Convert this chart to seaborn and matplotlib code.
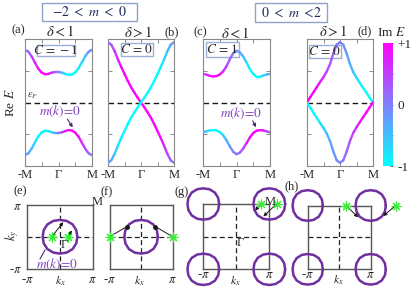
import numpy as np
import matplotlib
matplotlib.use("Agg")
import matplotlib.pyplot as plt
import seaborn as sns
from matplotlib.collections import LineCollection
from matplotlib.colors import Normalize
from matplotlib.patches import Rectangle
from matplotlib.cm import ScalarMappable


# momentum path -M .. Gamma .. M
K = [-1.0, -0.9, -0.8, -0.7, -0.6, -0.5, -0.4, -0.3, -0.2, -0.1, 0.0,
     0.1, 0.2, 0.3, 0.4, 0.5, 0.6, 0.7, 0.8, 0.9, 1.0]

# (a) -2<m<0, delta<1
A_UP_RE = [1.66, 1.60, 1.45, 1.25, 1.06, 0.94, 0.89, 0.90, 0.94, 0.96, 0.96,
           0.94, 0.90, 0.87, 0.88, 0.95, 1.08, 1.27, 1.46, 1.60, 1.66]
A_UP_IM = [0.0, 0.2, 0.45, 0.7, 0.9, 1.0, 1.0, 0.95, 0.75, 0.4, 0.1,
           -0.4, -0.75, -0.95, -1.0, -1.0, -0.9, -0.7, -0.45, -0.2, 0.0]
A_DN_RE = [-1.66, -1.60, -1.45, -1.25, -1.06, -0.94, -0.89, -0.90, -0.94, -0.96, -0.96,
           -0.94, -0.90, -0.87, -0.88, -0.95, -1.08, -1.27, -1.46, -1.60, -1.66]
A_DN_IM = [0.0, -0.2, -0.45, -0.7, -0.9, -1.0, -1.0, -0.95, -0.75, -0.4, -0.1,
           0.4, 0.75, 0.95, 1.0, 1.0, 0.9, 0.7, 0.45, 0.2, 0.1]

# (b) -2<m<0, delta>1
B1_RE = [1.90, 1.82, 1.62, 1.36, 1.12, 0.90, 0.68, 0.48, 0.31, 0.15, 0.0,
         -0.15, -0.31, -0.48, -0.68, -0.90, -1.12, -1.36, -1.62, -1.82, -1.90]
B1_IM = [0.1, 0.25, 0.5, 0.75, 0.92, 1.0, 1.0, 1.0, 1.0, 1.0, 1.0,
         1.0, 1.0, 1.0, 1.0, 1.0, 0.92, 0.75, 0.5, 0.25, 0.1]
B2_RE = [-1.90, -1.82, -1.62, -1.36, -1.12, -0.90, -0.68, -0.48, -0.31, -0.15, 0.0,
         0.15, 0.31, 0.48, 0.68, 0.90, 1.12, 1.36, 1.62, 1.82, 1.90]
B2_IM = [-0.1, -0.25, -0.5, -0.75, -0.92, -1.0, -1.0, -1.0, -1.0, -1.0, -1.0,
         -1.0, -1.0, -1.0, -1.0, -1.0, -0.92, -0.75, -0.5, -0.25, -0.1]

# (c) 0<m<2, delta<1
C_UP_RE = [0.90, 0.88, 0.84, 0.82, 0.83, 0.88, 0.98, 1.14, 1.36, 1.55, 1.63,
           1.58, 1.45, 1.26, 1.05, 0.90, 0.81, 0.81, 0.85, 0.88, 0.90]
C_UP_IM = [0.1, 0.6, 0.9, 1.0, 1.0, 0.95, 0.75, 0.5, 0.25, 0.05, -0.05,
           -0.2, -0.45, -0.7, -0.9, -1.0, -1.0, -0.95, -0.75, -0.45, -0.2]
C_DN_RE = [-0.94, -0.91, -0.88, -0.87, -0.88, -0.93, -1.03, -1.19, -1.38, -1.55, -1.63,
           -1.58, -1.45, -1.28, -1.10, -0.96, -0.89, -0.87, -0.88, -0.91, -0.94]
C_DN_IM = [-0.1, -0.55, -0.85, -1.0, -1.0, -0.9, -0.7, -0.45, -0.2, 0.0, 0.05,
           0.2, 0.45, 0.7, 0.9, 1.0, 1.0, 1.0, 0.85, 0.55, 0.2]

# (d) 0<m<2, delta>1
D_UP_RE = [0.0, 0.17, 0.33, 0.49, 0.65, 0.80, 0.98, 1.22, 1.55, 1.82, 1.90,
           1.82, 1.55, 1.22, 0.96, 0.78, 0.62, 0.46, 0.31, 0.15, 0.0]
D_UP_IM = [1.0, 1.0, 1.0, 0.95, 0.85, 0.7, 0.5, 0.35, 0.2, 0.1, 0.0,
           -0.1, -0.2, -0.35, -0.5, -0.7, -0.85, -0.95, -1.0, -1.0, -1.0]
D_DN_RE = [0.0, -0.17, -0.33, -0.49, -0.65, -0.80, -0.98, -1.22, -1.55, -1.82, -1.90,
           -1.82, -1.55, -1.22, -0.96, -0.78, -0.62, -0.46, -0.31, -0.15, 0.0]
D_DN_IM = [-1.0, -1.0, -1.0, -0.95, -0.85, -0.7, -0.5, -0.35, -0.2, -0.1, 0.0,
           0.1, 0.2, 0.35, 0.5, 0.7, 0.85, 0.95, 1.0, 1.0, 1.0]

K_TICKS = [-1.0, -0.5, 0.0, 0.5, 1.0]
K_LABELS = ["-M", "", "Γ", "", "M"]
CHERN = ["$C\\,=\\,-1$", "$C\\,=\\,0$", "$C\\,=\\,1$", "$C\\,=\\,0$"]

# m(k)=0 contour shape (units of pi, unit radius)
SHAPE_X = [1.0, 0.940, 0.730, 0.390, 0.0, -0.390, -0.730, -0.940, -1.0,
           -0.940, -0.730, -0.390, 0.0, 0.390, 0.730, 0.940, 1.0]
SHAPE_Y = [0.0, 0.390, 0.730, 0.940, 1.0, 0.940, 0.730, 0.390, 0.0,
           -0.390, -0.730, -0.940, -1.0, -0.940, -0.730, -0.390, 0.0]
RADIUS_GAMMA = 0.53
RADIUS_M = 0.48

# exceptional points (units of pi) and arrow tips
EP_E_X = [-0.25, 0.25]
EP_E_Y = [0.0, 0.0]
TIP_E = [(0.10, 0.46), (0.36, 0.20)]
EP_F_X = [-1.0, 1.0]
EP_F_Y = [0.0, 0.0]
TIP_F = [(-0.45, 0.32), (0.45, 0.32)]
EP_G_X = [0.75, 1.22]
EP_G_Y = [1.0, 1.0]
TIP_G = [(0.57, 0.80), (0.82, 0.62)]
EP_H_X = [0.22, 1.79]
EP_H_Y = [1.0, 1.0]
TIP_H = [(0.60, 0.63), (1.40, 0.67)]

W, H = 415, 289
PURPLE = "#7030A0"
LABEL_PURPLE = "#8040C0"
BOX_EC = "#9AB0D8"
EP_GREEN = "#33EE33"

sns.set_theme(style="ticks")
plt.rcParams["font.family"] = ["Liberation Serif", "DejaVu Serif"]
plt.rcParams["mathtext.fontset"] = "stix"

fig = plt.figure(figsize=(W / 100, H / 100), dpi=100)
norm = Normalize(-1, 1)
cmap = plt.get_cmap("cool")


def box(l, r, t, b):
    return [l / W, 1 - b / H, (r - l) / W, (b - t) / H]


def ftext(px, py, s, size=9, **kw):
    fig.text(px / W, 1 - py / H, s, ha="center", va="center", fontsize=size, **kw)


def frect(l, r, t, b, ec, parent=None, z=1):
    rect = Rectangle((l / W, 1 - b / H), (r - l) / W, (b - t) / H,
                     transform=fig.transFigure, facecolor="white",
                     edgecolor=ec, lw=1.0, zorder=z)
    if parent is None:
        fig.add_artist(rect)
    else:
        parent.add_patch(rect)


def band(ax, x, y, im):
    pts = np.array([x, y]).T.reshape(-1, 1, 2)
    segs = np.concatenate([pts[:-1], pts[1:]], axis=1)
    v = np.array(im)
    lc = LineCollection(segs, cmap=cmap, norm=norm, lw=1.7, zorder=3,
                        capstyle="round", joinstyle="round")
    lc.set_array((v[:-1] + v[1:]) / 2)
    ax.add_collection(lc)


top = [
    ((25, 92, 39, 166), [(A_UP_RE, A_UP_IM), (A_DN_RE, A_DN_IM)], (36.7, 75, 45, 55.7)),
    ((108, 174, 39, 166), [(B1_RE, B1_IM), (B2_RE, B2_IM)], (121.3, 153, 43.3, 55.7)),
    ((203, 270, 39, 166), [(C_UP_RE, C_UP_IM), (C_DN_RE, C_DN_IM)], (205.7, 239, 42.3, 57.3)),
    ((307, 373, 39, 166), [(D_UP_RE, D_UP_IM), (D_DN_RE, D_DN_IM)], (308.7, 341.3, 45, 58.3)),
]

for i, (pos, curves, cb) in enumerate(top):
    ax = fig.add_axes(box(*pos))
    for re, im in curves:
        band(ax, K, re, im)
    ax.axhline(0, color="k", ls="--", lw=1.0, dashes=(4, 2.5), zorder=2)
    ax.set_xlim(-1, 1)
    ax.set_ylim(-2, 2)
    ax.set_xticks(K_TICKS)
    ax.set_xticklabels(K_LABELS)
    ax.set_yticks([-1, 0, 1])
    ax.set_yticklabels([])
    ax.tick_params(direction="in", top=True, right=True, length=3, width=0.6,
                   color="#777777", labelsize=9, pad=2)
    for s in ax.spines.values():
        s.set_color("#888888")
        s.set_linewidth(0.8)
    frect(*cb, BOX_EC, parent=ax, z=1)
    ftext((cb[0] + cb[1]) / 2, (cb[2] + cb[3]) / 2, CHERN[i], size=9.5, zorder=2)
    if i == 0:
        ax.set_ylabel("Re $E$", fontsize=9.5, labelpad=4)
        ftext(33, 96, "$\\varepsilon_F$", size=7.5, color="#333333")
        ftext(60, 111, "$m(k)\\!=\\!0$", size=9.5, color=LABEL_PURPLE)
        ax.annotate("", xy=(0.47, -0.86), xytext=(0.22, -0.45),
                    arrowprops=dict(arrowstyle="-|>", color="#4B2A73", lw=0.8,
                                    mutation_scale=5))
    if i == 2:
        ftext(240.7, 113.3, "$m(k)\\!=\\!0$", size=9.5, color=LABEL_PURPLE)
        ax.annotate("", xy=(0.62, -0.86), xytext=(0.45, -0.5),
                    arrowprops=dict(arrowstyle="-|>", color="#4B2A73", lw=0.8,
                                    mutation_scale=5))

# colour bar
cax = fig.add_axes(box(383, 393, 43, 166))
cbar = fig.colorbar(ScalarMappable(norm=norm, cmap=cmap), cax=cax)
cbar.set_ticks([-1, -0.5, 0, 0.5, 1])
cbar.set_ticklabels(["-1", "", "0", "", "+1"])
cbar.outline.set_visible(False)
cax.tick_params(direction="in", length=2, width=0.6, color="#555555",
                labelsize=9.5, pad=3)

# header texts
frect(41.7, 137.3, 2.7, 21, "#8FA3C8")
ftext(89.5, 12, "$-2\\ <\\ m\\ <\\ 0$", size=10, color="#1F2D5C")
frect(255, 327.3, 3, 22, "#8FA3C8")
ftext(291, 12.5, "$0\\ <\\ m\\ <\\!2$", size=10, color="#1F2D5C")
ftext(18.3, 30.7, "(a)", size=9)
ftext(60, 31.7, "$\\delta < 1$", size=10.5)
ftext(138, 32.3, "$\\delta > 1$", size=10.5)
ftext(171.7, 32.3, "(b)", size=9)
ftext(200, 32.3, "(c)", size=9)
ftext(235, 33.3, "$\\delta < 1$", size=10.5)
ftext(333.3, 31.7, "$\\delta > 1$", size=10.5)
ftext(365, 31.7, "(d)", size=9)
ftext(391.7, 32.3, "Im $E$", size=9.5)

# Brillouin zone panels
bottom = [
    ("e", (27.3, 92.7, 205, 268.5), [(0, 0)], RADIUS_GAMMA, (EP_E_X, EP_E_Y), TIP_E, "arrow"),
    ("f", (109.5, 172.7, 205, 268.5), [(0, 0)], RADIUS_GAMMA, (EP_F_X, EP_F_Y), TIP_F, "dot"),
    ("g", (203.3, 269.3, 204, 269.3), [(-1, -1), (-1, 1), (1, -1), (1, 1)], RADIUS_M,
     (EP_G_X, EP_G_Y), TIP_G, "arrow"),
    ("h", (307.7, 370.7, 205.5, 269.3), [(-1, -1), (-1, 1), (1, -1), (1, 1)], RADIUS_M,
     (EP_H_X, EP_H_Y), TIP_H, "arrow"),
]

for name, pos, centers, rad, eps, tips, style in bottom:
    ax = fig.add_axes(box(*pos))
    ax.set_xlim(-1, 1)
    ax.set_ylim(-1, 1)
    ax.axhline(0, color="#222222", ls="--", lw=0.9, dashes=(4, 2.5))
    ax.axvline(0, color="#222222", ls="--", lw=0.9, dashes=(4, 2.5))
    for cx, cy in centers:
        sns.lineplot(x=[cx + rad * v for v in SHAPE_X], y=[cy + rad * v for v in SHAPE_Y],
                     sort=False, estimator=None, color=PURPLE, lw=1.8, ax=ax,
                     clip_on=False, zorder=3)
    for (sx, sy), (tx, ty) in zip(zip(*eps), tips):
        if style == "arrow":
            ax.annotate("", xy=(tx, ty), xytext=(sx, sy), annotation_clip=False,
                        arrowprops=dict(arrowstyle="-|>", color="k", lw=0.7,
                                        mutation_scale=5, shrinkA=0, shrinkB=0),
                        zorder=5)
        else:
            ax.plot([sx, tx], [sy, ty], color="k", lw=0.7, zorder=5)
            ax.plot([tx], [ty], "o", color="k", ms=2.5, zorder=5)
    sns.scatterplot(x=eps[0], y=eps[1], marker=(8, 2, 0), s=42, color=EP_GREEN,
                    linewidth=0.8, ax=ax, clip_on=False, zorder=6, edgecolor=EP_GREEN)
    ax.set_xticks([-1, 1])
    ax.set_xticklabels(["-$\\pi$", "$\\pi$"])
    ax.set_yticks([-1, 1])
    if name == "e":
        ax.set_yticklabels(["-$\\pi$", "$\\pi$"])
    else:
        ax.set_yticklabels([])
    pad = 4 if name in ("e", "f") else 0
    ax.tick_params(length=0, labelsize=9, pad=pad)
    ax.set_xlabel("")
    ax.set_ylabel("")
    for s in ax.spines.values():
        s.set_color("#555555")
        s.set_linewidth(1.0)
    ax.set_zorder(2 if name in ("g", "h") else 1)
    ax.patch.set_alpha(0)

ftext(20, 191.7, "(e)", size=9)
ftext(106.5, 192, "(f)", size=9)
ftext(182, 192.3, "(g)", size=9)
ftext(291.7, 186.7, "(h)", size=9)
ftext(97.5, 201.7, "M", size=9)
ftext(270, 201.7, "M", size=9)
ftext(64, 245, "Γ", size=9)
ftext(240, 243.3, "Γ", size=9)
ftext(12, 235, "$k_y$", size=9, rotation=90)
ftext(60, 281.5, "$k_x$", size=8.5)
ftext(139.3, 281.5, "$k_x$", size=8.5)
ftext(235, 281, "$k_x$", size=8.5)
ftext(338.3, 280, "$k_x$", size=8.5)
ftext(56.7, 264, "$m(k)\\!=\\!0$", size=9.5, color=LABEL_PURPLE)
fig.add_artist(plt.Line2D([40 / W, 45 / W], [1 - 259 / H, 1 - 250 / H],
                          color="#4B2A73", lw=0.8))

fig.savefig("out.png", dpi=100)
